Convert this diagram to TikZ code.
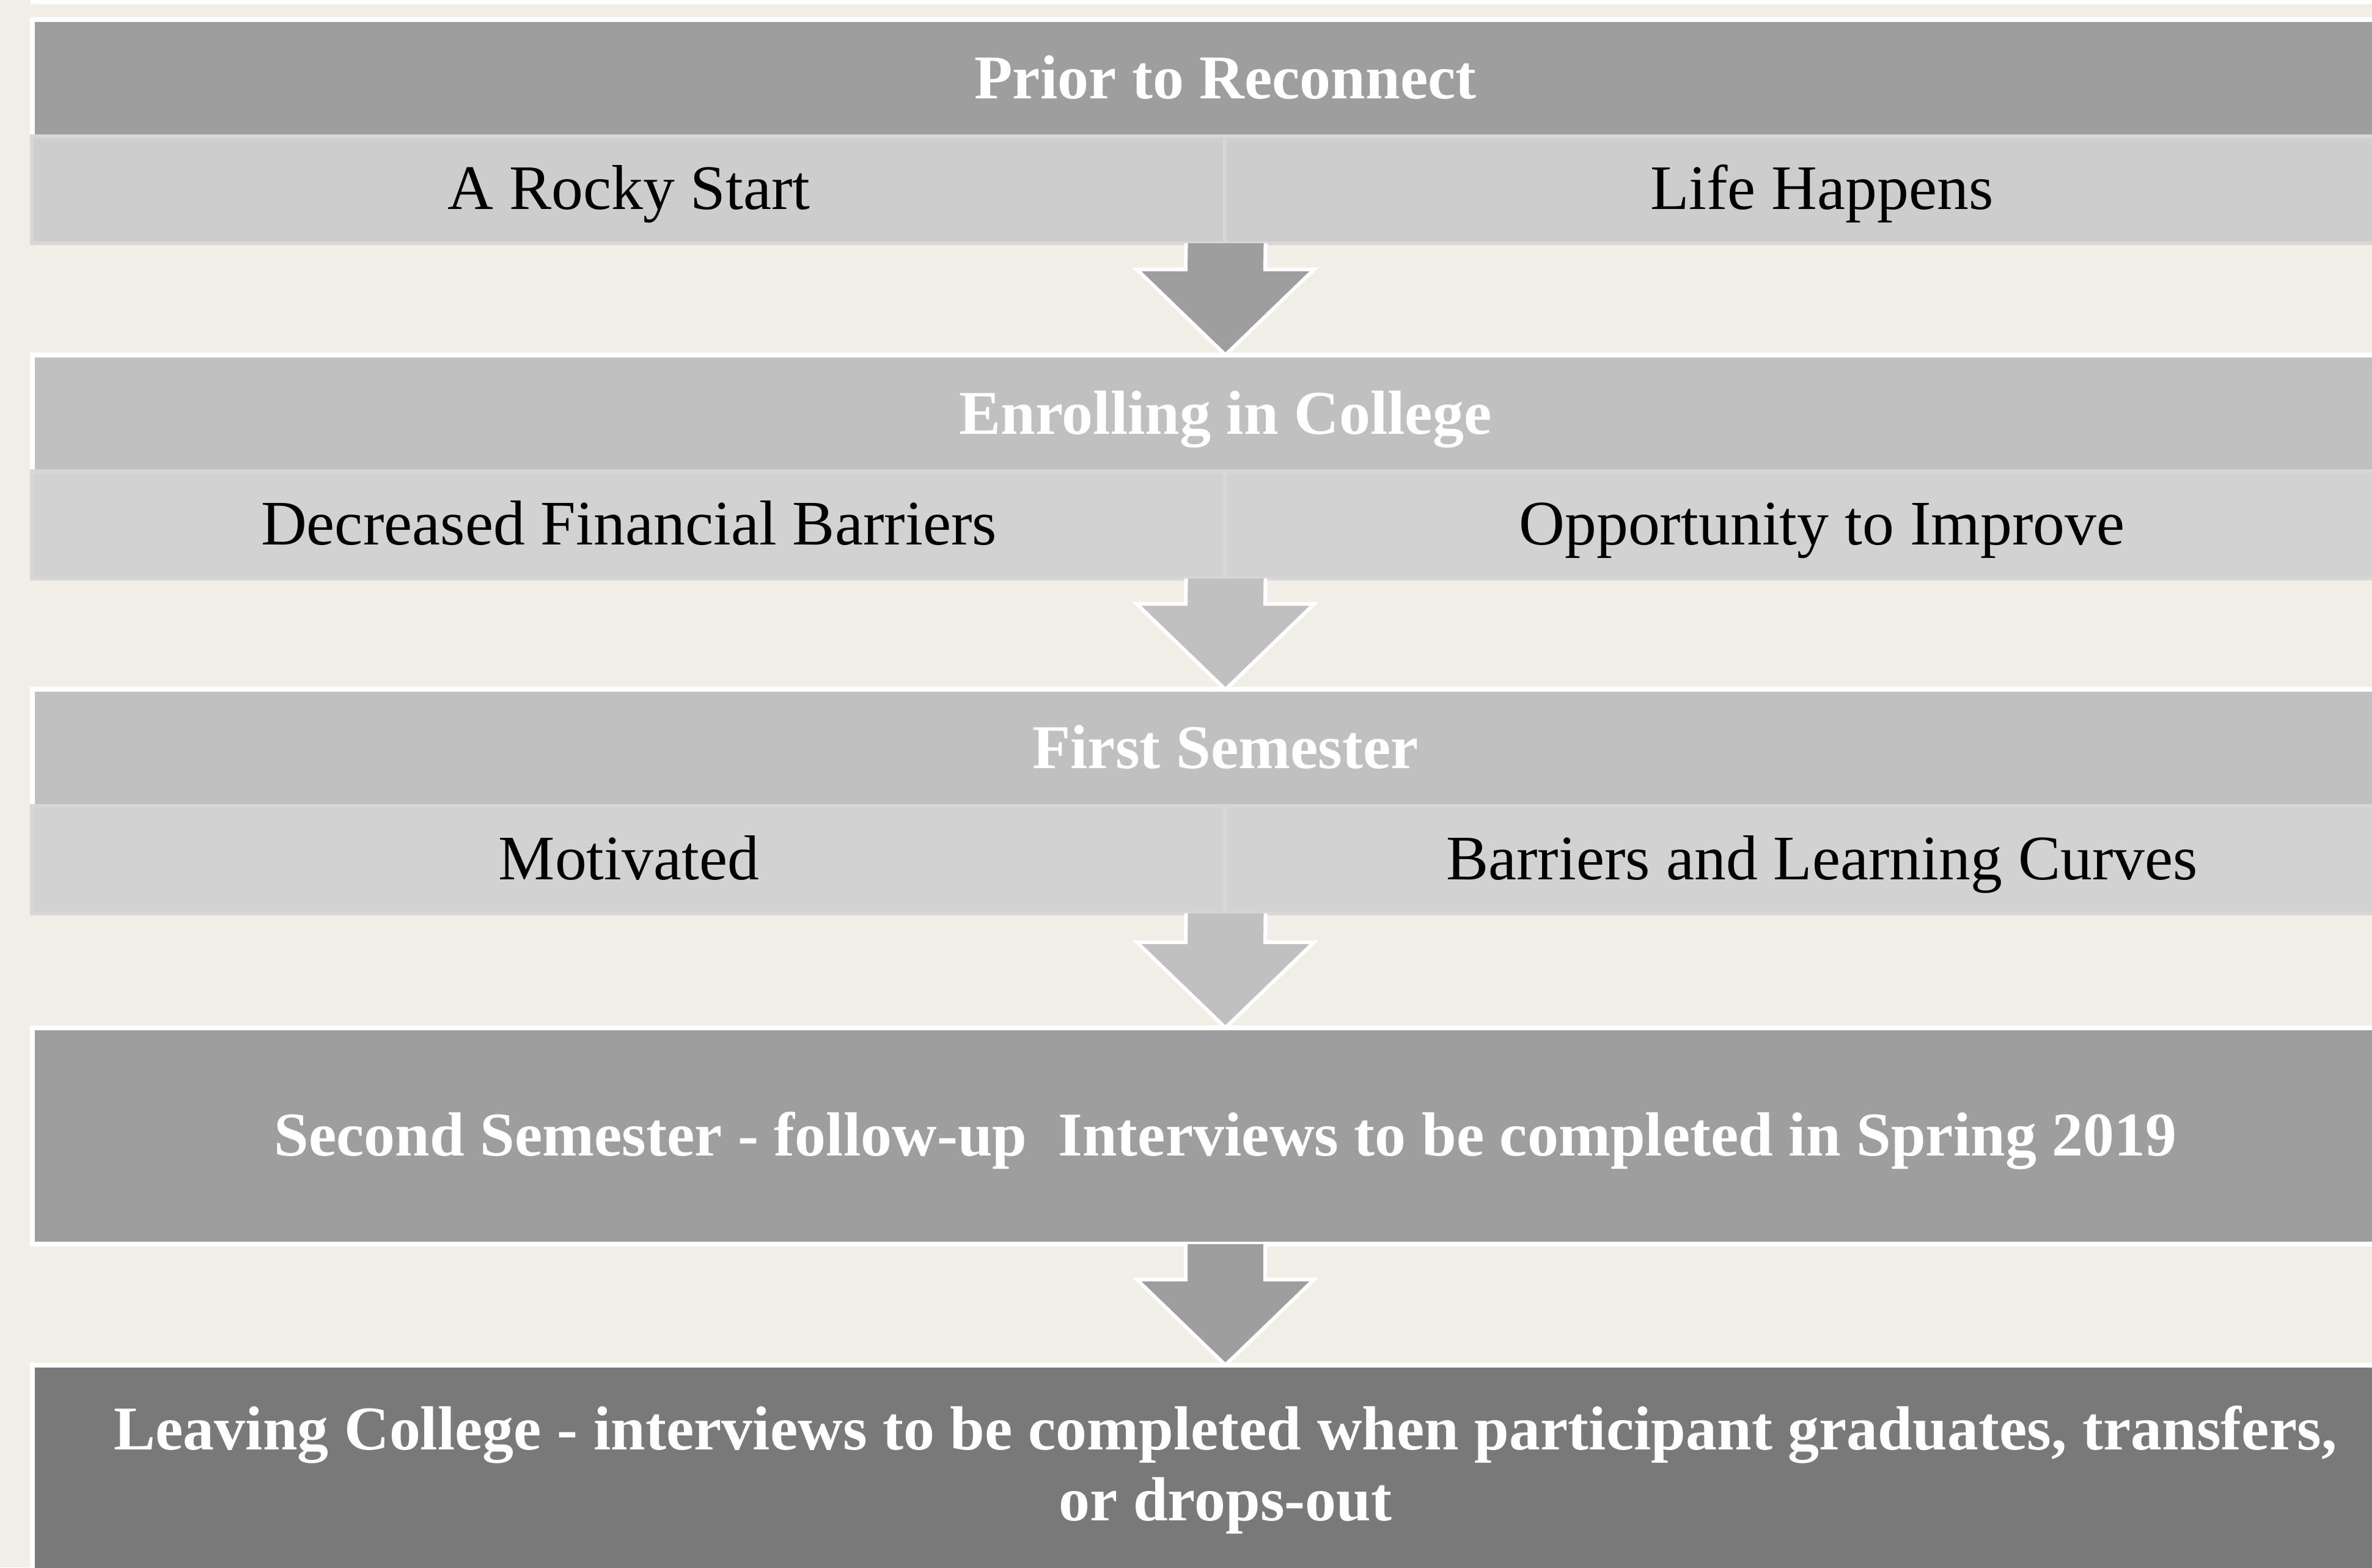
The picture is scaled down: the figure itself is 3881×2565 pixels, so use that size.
\documentclass[tikz,border=0pt]{standalone}
\usepackage{xcolor}
\usepackage{fontspec}
\setmainfont{Liberation Serif}
\usepackage{tikz}
\usetikzlibrary{calc}
\definecolor{slidebg}{HTML}{F0EEE7}
\definecolor{darkstage}{HTML}{9E9E9E}
\definecolor{lightstage}{HTML}{C0C0C0}
\definecolor{laststage}{HTML}{797979}
\definecolor{subdark}{HTML}{CDCDCD}
\definecolor{sublight}{HTML}{D2D2D2}
\definecolor{subedge}{HTML}{D7D7D7}
\newcommand\stagearrow[3]{
  \coordinate (a) at (#1);
  \coordinate (b) at (#2);
  \fill[#3] ($ (a) + (-65,0) $) -- ($ (b) + (-65,-140) $) -- ($ (b) + (-145,-140) $) -- (b) -- ($ (b) + (145,-140) $) -- ($ (b) + (65,-140) $) -- ($ (a) + (65,0) $) -- cycle;
  \draw[white,line width=0.06cm] ($ (a) + (-65,0) $) -- ($ (b) + (-65,-140) $) -- ($ (b) + (-145,-140) $) -- (b) -- ($ (b) + (145,-140) $) -- ($ (b) + (65,-140) $) -- ($ (a) + (65,0) $);
}

\begin{document}
\begin{tikzpicture}[x=0.01cm,y=-0.01cm,
    stagehead/.style={fill=#1,draw=white,line width=0.08cm,inner sep=0pt,outer sep=0pt,
      minimum width=39.02cm,text=white,align=center,font=\bfseries\fontsize{29}{33}\selectfont},
    stagecell/.style={fill=#1,draw=subedge,line width=0.06cm,inner sep=0pt,outer sep=0pt,
      minimum width=19.52cm,minimum height=1.75cm,text height=24pt,text depth=5.7pt,
      font=\fontsize{29.5}{33}\selectfont}]
      \useasboundingbox (0,0) rectangle (3881,2565);
      \fill[slidebg] (0,0) rectangle (3881,2565);
      \fill[white] (50,-10) rectangle (3960,7);

      \node[stagehead=darkstage,minimum height=1.94cm,text height=24pt,text depth=5.7pt] (prior) at (2005,129) {Prior to Reconnect};
      \node[stagecell=subdark] (c1a) at (1029,310.5) {A Rocky Start};
      \node[stagecell=subdark] (c1b) at (2981,310.5) {Life Happens};

      \node[stagehead=lightstage,minimum height=1.94cm,text height=24pt,text depth=5.7pt] (enroll) at (2005,678) {Enrolling in College};
      \node[stagecell=sublight] (c2a) at (1029,859) {Decreased Financial Barriers};
      \node[stagecell=sublight] (c2b) at (2981,859) {Opportunity to Improve};

      \node[stagehead=lightstage,minimum height=1.94cm,text height=24pt,text depth=5.7pt] (first) at (2005,1225.5) {First Semester};
      \node[stagecell=sublight] (c3a) at (1029,1407) {Motivated};
      \node[stagecell=sublight] (c3b) at (2981,1407) {Barriers and Learning Curves};

      \node[stagehead=darkstage,minimum height=3.54cm,text height=24pt,text depth=5.7pt] (second) at (2005,1859) {Second Semester - follow-up\ \ Interviews to be completed in Spring 2019};

      \node[stagehead=laststage,minimum height=3.42cm] (leaving) at (2005,2405) {Leaving College - interviews to be completed when participant graduates, transfers,\\ or drops-out};

      \stagearrow{c1a.south east}{enroll.north}{darkstage}
      \stagearrow{c2a.south east}{first.north}{lightstage}
      \stagearrow{c3a.south east}{second.north}{lightstage}
      \stagearrow{second.south}{leaving.north}{darkstage}
\end{tikzpicture}
\end{document}
